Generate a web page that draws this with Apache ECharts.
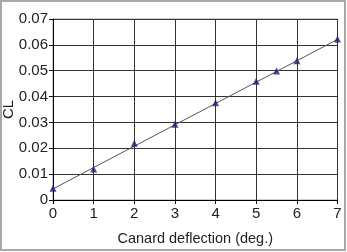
<!DOCTYPE html>
<html><head><meta charset="utf-8">
<script src="https://cdn.jsdelivr.net/npm/echarts@6/dist/echarts.min.js"></script>
<style>html,body{margin:0;padding:0;background:#fff}#c{width:347px;height:252px}</style>
</head><body><div id="c"></div>
<script>
var deflection = [0, 1, 2, 3, 4, 5, 5.5, 6, 7];
var cl = [0.0045, 0.0120, 0.0219, 0.0293, 0.0376, 0.0459, 0.0499, 0.0539, 0.0623];
var trendX = [0, 7];
var trendY = [0.0043, 0.0621];
var xTicks = [0, 1, 2, 3, 4, 5, 6, 7];
var yTicks = [0, 0.01, 0.02, 0.03, 0.04, 0.05, 0.06, 0.07];

var chart = echarts.init(document.getElementById('c'), null, {renderer: 'canvas'});
var font = 'Liberation Sans, Arial, sans-serif';
chart.setOption({
  animation: false,
  graphic: [{type: 'rect', shape: {x: 1, y: 1, width: 344, height: 249},
    style: {fill: 'none', stroke: '#a8a8a8', lineWidth: 2}, z: 0}],
  grid: {left: 53, right: 9.5, top: 19, bottom: 52, show: true, borderColor: '#a0a0a0', borderWidth: 1,
    containLabel: false, outerBoundsMode: 'none'},
  xAxis: {type: 'value', min: 0, max: 7, interval: 1,
    name: 'Canard deflection (deg.)', nameLocation: 'middle', nameGap: 31, nameMoveOverlap: false,
    nameTextStyle: {fontFamily: font, fontSize: 14.5, color: '#222'},
    axisLine: {show: true, lineStyle: {color: '#000', width: 1}},
    axisTick: {show: true, length: 4, lineStyle: {color: '#000'}},
    axisLabel: {fontFamily: font, fontSize: 15, color: '#222', margin: 6,
      formatter: function(v){ return xTicks.indexOf(v) >= 0 ? String(v) : ''; }},
    splitLine: {show: true, lineStyle: {color: '#333', width: 1}}},
  yAxis: {type: 'value', min: 0, max: 0.07, interval: 0.01,
    name: 'CL', nameLocation: 'middle', nameGap: 37, nameRotate: 90, nameMoveOverlap: false,
    nameTextStyle: {fontFamily: font, fontSize: 15, color: '#222'},
    axisLine: {show: true, lineStyle: {color: '#000', width: 1}},
    axisTick: {show: true, length: 4, lineStyle: {color: '#000'}},
    axisLabel: {fontFamily: font, fontSize: 15, color: '#222', margin: 5,
      formatter: function(v){ var r = Math.round(v*100)/100; return r === 0 ? '0' : r.toFixed(2); }},
    splitLine: {show: true, lineStyle: {color: '#333', width: 1}}},
  series: [
    {type: 'line', data: trendX.map(function(x,i){return [x, trendY[i]];}),
     symbol: 'none', lineStyle: {color: '#555', width: 1}, z: 3},
    {type: 'scatter', data: deflection.map(function(x,i){return [x, cl[i]];}),
     symbol: 'triangle', symbolSize: 7, itemStyle: {color: '#1b1f73'}, z: 4}
  ]
});
</script></body></html>
